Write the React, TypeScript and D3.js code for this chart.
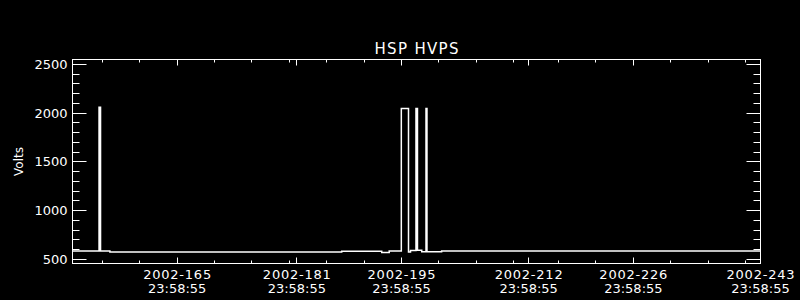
import React from "react";
import * as d3 from "d3";

// ---- data (day of year 2002, fractional; value holds until next point) ----
const times = [
  151.0, 154.55, 154.75, 156.0, 187.0, 192.35, 193.35, 194.97, 195.93, 196.2,
  196.93, 197.13, 197.7, 198.27, 198.4, 200.36, 243.0,
];
const volts = [
  587, 2062, 587, 578, 585, 572, 587, 2048, 577, 592,
  2048, 595, 580, 2048, 579, 587, 587,
];

const xMajorDays = [165, 181, 195, 212, 226, 243];
const xTickLabels = ["2002-165", "2002-181", "2002-195", "2002-212", "2002-226", "2002-243"];
const xTickTimes = ["23:58:55", "23:58:55", "23:58:55", "23:58:55", "23:58:55", "23:58:55"];
const xMinorDays = [155, 160, 170, 175, 180, 185, 190, 200, 205, 210, 216, 221, 231, 236, 241];
const yMajor = [500, 1000, 1500, 2000, 2500];
const yMinor = [600, 700, 800, 900, 1100, 1200, 1300, 1400, 1600, 1700, 1800, 1900, 2100, 2200, 2300, 2400];

const title = "HSP HVPS";
const yTitle = "Volts";

export default function App() {
  const W = 800;
  const H = 300;
  const left = 72.5, right = 760.5, top = 59.5, bottom = 263.5;
  const x = d3.scaleLinear().domain([151, 243]).range([left, right]);
  const y = d3.scaleLinear().domain([459, 2551]).range([bottom, top]);
  const font = "DejaVu Sans, sans-serif";

  const pts: [number, number][] = times.map((t, i) => [t, volts[i]]);
  const line = d3
    .line<[number, number]>()
    .x((d) => x(d[0]))
    .y((d) => y(d[1]))
    .curve(d3.curveStepAfter);

  const col = "#ffffff";
  const r = (v: number) => Math.round(v - 0.5) + 0.5;

  return (
    <svg
      width={W}
      height={H}
      style={{ position: "absolute", left: 0, top: 0, background: "#000" }}
    >
      <rect x={0} y={0} width={W} height={H} fill="#000" />
      {/* frame */}
      <rect x={left} y={top} width={right - left} height={bottom - top} fill="none" stroke={col} strokeWidth={1} />
      {/* y ticks */}
      {yMajor.map((v) => (
        <g key={"ym" + v}>
          <line x1={left} x2={left + 14} y1={r(y(v))} y2={r(y(v))} stroke={col} />
          <line x1={right} x2={right - 14} y1={r(y(v))} y2={r(y(v))} stroke={col} />
          <text x={67.5} y={r(y(v)) + 4.6} fill={col} fontFamily={font} fontSize={13} textAnchor="end">
            {v}
          </text>
        </g>
      ))}
      {yMinor.map((v) => (
        <g key={"yn" + v}>
          <line x1={left} x2={left + 7} y1={r(y(v))} y2={r(y(v))} stroke={col} />
          <line x1={right} x2={right - 7} y1={r(y(v))} y2={r(y(v))} stroke={col} />
        </g>
      ))}
      {/* x ticks */}
      {xMajorDays.map((d, i) => (
        <g key={"xm" + d}>
          <line x1={r(x(d))} x2={r(x(d))} y1={bottom} y2={bottom - 6} stroke={col} />
          <line x1={r(x(d))} x2={r(x(d))} y1={top} y2={top + 6} stroke={col} />
          <text x={x(d)} y={278.7} fill={col} fontFamily={font} fontSize={13} textAnchor="middle" textLength={68} lengthAdjust="spacing">
            {xTickLabels[i]}
          </text>
          <text x={x(d)} y={292.7} fill={col} fontFamily={font} fontSize={13} textAnchor="middle">
            {xTickTimes[i]}
          </text>
        </g>
      ))}
      {xMinorDays.map((d) => (
        <g key={"xn" + d}>
          <line x1={r(x(d))} x2={r(x(d))} y1={bottom} y2={bottom - 3} stroke={col} />
          <line x1={r(x(d))} x2={r(x(d))} y1={top} y2={top + 3} stroke={col} />
        </g>
      ))}
      {/* data */}
      <path d={line(pts) || ""} fill="none" stroke={col} strokeWidth={1.5} />
      {/* titles */}
      <text x={(left + right) / 2} y={53.8} fill={col} fontFamily={font} fontSize={15} textAnchor="middle" textLength={84} lengthAdjust="spacing">
        {title}
      </text>
      <text
        transform={`translate(23,${(top + bottom) / 2}) rotate(-90)`}
        fill={col}
        fontFamily={font}
        fontSize={12}
        textAnchor="middle"
      >
        {yTitle}
      </text>
    </svg>
  );
}
